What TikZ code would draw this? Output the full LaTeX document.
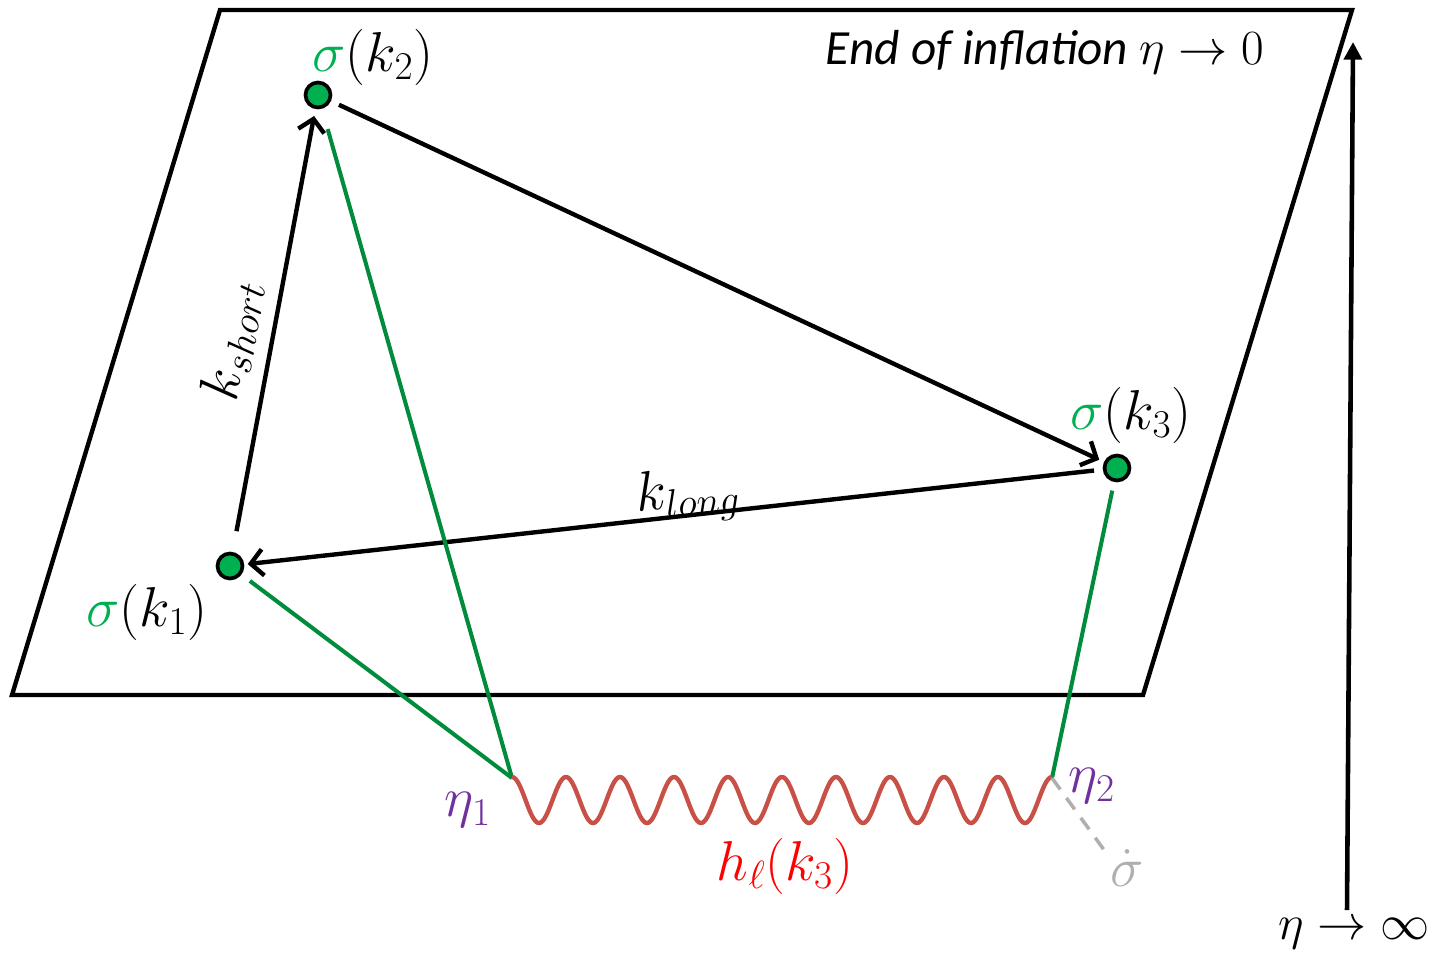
\RequirePackage{fix-cm}
\documentclass[tikz,border=0pt]{standalone}
\usepackage{fontspec}
\setmainfont{Carlito}
\usetikzlibrary{arrows.meta}
\definecolor{sgreen}{RGB}{0,176,80}
\definecolor{lgreen}{RGB}{0,140,60}
\definecolor{purp}{RGB}{112,48,160}
\definecolor{wavec}{RGB}{200,80,70}
\definecolor{gry}{RGB}{175,175,175}
\begin{document}
\begin{tikzpicture}[x=0.02cm,y=-0.02cm,
  dot/.style={circle,draw=black,line width=2.1pt,fill=sgreen,minimum size=0.5cm,inner sep=0pt},
  plane/.style={line width=2.5pt,line join=miter},
  arr/.style={line width=2.5pt,-{Straight Barb[length=7pt,width=15pt]}},
  gline/.style={draw=lgreen,line width=2.3pt},
  lbl/.style={font=\fontsize{32}{36}\selectfont,inner sep=0pt},
  wavy/.style={draw=wavec,line width=2.5pt},
]
\useasboundingbox (0,0) rectangle (1429,960);
% plane
\draw[plane] (220,10) -- (1352,10) -- (1143,695) -- (12,695) -- cycle;
% dots
\node[dot] (k2) at (318,95) {};
\node[dot] (k3) at (1117,468) {};
\node[dot] (k1) at (230,566) {};
% vertex coordinates
\coordinate (e1) at (512,778);
\coordinate (e2) at (1052,778);
% arrows
\draw[arr,shorten <=12pt,shorten >=4pt] (k1) -- (k2);
\draw[arr,shorten <=5pt,shorten >=3pt] (k2) -- (k3);
\draw[arr,shorten <=5pt,shorten >=2pt] (k3) -- (k1);
% green lines
\draw[gline,shorten <=6pt] (k1) -- (e1);
\draw[gline,shorten <=12pt] (k2) -- (e1);
\draw[gline,shorten <=5pt] (k3) -- (e2);
% wave
\draw[wavy] plot[domain=0:540,samples=401,smooth] ({512+\x},{800-23*cos(\x*20/3)});
% dashed
\node[lbl,text=gry] (sd) at (1127,868) {$\dot\sigma$};
\draw[draw=gry,line width=2pt,dash pattern=on 8pt off 6pt,shorten >=2pt] (e2) -- (sd.150);
% labels
\node[lbl] (l2) at (373,57) {$\textcolor{sgreen}{\sigma}(k_2)$};
\node[lbl] (l3) at (1131,415) {$\textcolor{sgreen}{\sigma}(k_3)$};
\node[lbl] (l1) at (147,612) {$\textcolor{sgreen}{\sigma}(k_1)$};
\node[lbl,text=purp] (n1) at (468,810) {$\eta_1$};
\node[lbl,text=purp] (n2) at (1092,786) {$\eta_2$};
\node[lbl,text=red] (h) at (785,866) {$h_\ell(k_3)$};
\node[lbl,rotate=80] (ks) at (232,340) {$k_{short}$};
\node[lbl,rotate=5] (kl) at (688,496) {$k_{long}$};
\node[inner sep=0pt,font=\fontsize{28}{32}\selectfont\itshape] (end) at (1045,52) {End of inflation $\eta\rightarrow 0$};
% time arrow
\node[inner sep=0pt,font=\fontsize{28}{32}\selectfont,anchor=north] (inf) at (1354,918) {$\eta\rightarrow\infty$};
\coordinate (top) at (1353,42);
\draw[line width=2.6pt,-{Triangle[length=10pt,width=10pt]}] (1347,910) -- (top);
\end{tikzpicture}
\end{document}
